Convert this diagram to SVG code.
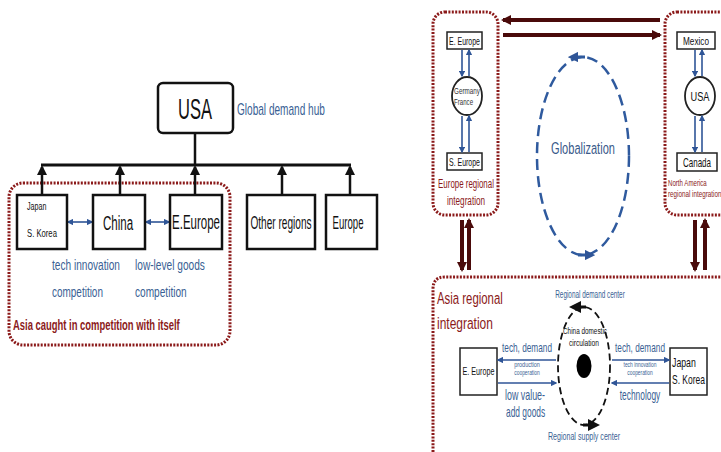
<svg xmlns="http://www.w3.org/2000/svg" width="721" height="452" viewBox="0 0 721 452">
<defs>
<style>
text{font-family:"Liberation Sans","Arial",sans-serif;}
.m{text-anchor:middle;}
.box{fill:#fff;stroke:#111;stroke-width:2.5;}
.sbox{fill:#fff;stroke:#222;stroke-width:1.5;}
.dot{fill:none;stroke:#8b1a1a;stroke-width:3;stroke-dasharray:2 1.4;}
.blue{fill:#3a5f94;}
.red{fill:#8b1a1a;}
.blk{fill:#111;}
.bl{stroke:#2f5597;stroke-width:1.6;fill:none;}
.br{stroke:#4a0a0a;stroke-width:4;fill:none;}
.k{stroke:#111;stroke-width:2.5;fill:none;}
</style>
<marker id="ak" viewBox="0 0 10 10" refX="8" refY="5" markerWidth="4" markerHeight="5" orient="auto-start-reverse" markerUnits="strokeWidth"><path d="M0,0L10,5L0,10z" fill="#111"/></marker>
<marker id="ab" viewBox="0 0 10 10" refX="8" refY="5" markerWidth="4" markerHeight="4" orient="auto-start-reverse" markerUnits="strokeWidth"><path d="M0,0L10,5L0,10z" fill="#2f5597"/></marker>
<marker id="ar" viewBox="0 0 10 10" refX="8" refY="5" markerWidth="2.5" markerHeight="2.5" orient="auto-start-reverse" markerUnits="strokeWidth"><path d="M0,0L10,5L0,10z" fill="#4a0a0a"/></marker>
<marker id="ag" viewBox="0 0 10 10" refX="5" refY="5" markerWidth="3.5" markerHeight="3.5" orient="auto" markerUnits="strokeWidth"><path d="M0,0L10,5L0,10z" fill="#2f5597"/></marker>
<marker id="ac" viewBox="0 0 10 10" refX="5" refY="5" markerWidth="4" markerHeight="4" orient="auto" markerUnits="strokeWidth"><path d="M0,0L10,5L0,10z" fill="#111"/></marker>
</defs>
<rect width="721" height="452" fill="#fff"/>

<!-- LEFT PANEL -->
<g id="asia-group-left">
<rect class="dot" x="9" y="183" width="221" height="162" rx="14"/>
<text transform="translate(13 330) scale(0.63 1)" font-size="15" font-weight="bold" class="red">Asia caught in competition with itself</text>
</g>
<g id="connectors-left">
<line class="k" x1="195" y1="133" x2="195" y2="165"/>
<line x1="41" y1="165" x2="351" y2="165" stroke="#111" stroke-width="3"/>
<line class="k" stroke-width="1.5" x1="42" y1="195" x2="42" y2="167" marker-end="url(#ak)"/>
<line class="k" stroke-width="1.5" x1="120" y1="195" x2="120" y2="167" marker-end="url(#ak)"/>
<line class="k" stroke-width="1.5" x1="195" y1="195" x2="195" y2="167" marker-end="url(#ak)"/>
<line class="k" stroke-width="1.5" x1="282" y1="195" x2="282" y2="167" marker-end="url(#ak)"/>
<line class="k" stroke-width="1.5" x1="350" y1="195" x2="350" y2="167" marker-end="url(#ak)"/>
<line class="bl" x1="68" y1="222" x2="92" y2="222" marker-start="url(#ab)" marker-end="url(#ab)"/>
<line class="bl" x1="146" y1="222" x2="169" y2="222" marker-start="url(#ab)" marker-end="url(#ab)"/>
</g>
<g id="usa">
<rect class="box" x="158" y="83" width="75" height="50" rx="5"/>
<text transform="translate(195 119) scale(0.57 1)" font-size="29" class="m blk">USA</text>
<text transform="translate(237 115) scale(0.63 1)" font-size="16" class="blue">Global demand hub</text>
</g>
<g id="japan-left">
<rect class="box" x="17" y="195" width="50" height="54"/>
<text transform="translate(27 210) scale(0.65 1)" font-size="11" class="blk">Japan</text>
<text transform="translate(27 237) scale(0.7 1)" font-size="11" class="blk">S. Korea</text>
</g>
<g id="china-left">
<rect class="box" x="93" y="195" width="52" height="54"/>
<text transform="translate(118 230) scale(0.55 1)" font-size="21" class="m blk">China</text>
</g>
<g id="eeurope-left">
<rect class="box" x="170" y="195" width="52" height="54"/>
<text transform="translate(196 229) scale(0.575 1)" font-size="20" class="m blk">E.Europe</text>
</g>
<g id="other-regions">
<rect class="box" x="247" y="195" width="68" height="54"/>
<text transform="translate(281 229) scale(0.56 1)" font-size="18" class="m blk">Other regions</text>
</g>
<g id="europe-left">
<rect class="box" x="326" y="195" width="51" height="54"/>
<text transform="translate(348 229) scale(0.535 1)" font-size="18" class="m blk">Europe</text>
</g>
<g id="labels-left">
<text transform="translate(52 270) scale(0.674 1)" font-size="15" class="blue">tech innovation</text>
<text transform="translate(52 297) scale(0.665 1)" font-size="15" class="blue">competition</text>
<text transform="translate(135 270) scale(0.677 1)" font-size="15" class="blue">low-level goods</text>
<text transform="translate(135 297) scale(0.675 1)" font-size="15" class="blue">competition</text>
</g>

<!-- RIGHT PANEL -->
<g id="europe-region">
<rect class="dot" x="433" y="12" width="65" height="203" rx="12"/>
<rect class="sbox" x="447" y="32" width="35" height="17"/>
<text transform="translate(464.5 45) scale(0.634 1)" font-size="11" class="m blk">E. Europe</text>
<ellipse cx="467" cy="96" rx="15" ry="19" fill="#fff" stroke="#222" stroke-width="1.8"/>
<text transform="translate(454 94) scale(0.7 1)" font-size="9" fill="#333">Germany</text>
<text transform="translate(454 105) scale(0.68 1)" font-size="9" fill="#333">France</text>
<rect class="sbox" x="447" y="153" width="35" height="17"/>
<text transform="translate(464.5 166) scale(0.634 1)" font-size="11" class="m blk">S. Europe</text>
<text transform="translate(466 188) scale(0.66 1)" font-size="12" class="m red">Europe regional</text>
<text transform="translate(466 205) scale(0.68 1)" font-size="12" class="m red">integration</text>
</g>
<g id="north-america-region">
<rect class="dot" x="665" y="12" width="70" height="203" rx="12"/>
<rect class="sbox" x="677" y="32" width="38" height="17"/>
<text transform="translate(696 45) scale(0.746 1)" font-size="11" class="m blk">Mexico</text>
<ellipse cx="700" cy="96" rx="15" ry="19" fill="#fff" stroke="#222" stroke-width="1.8"/>
<text transform="translate(700 101) scale(0.71 1)" font-size="13" class="m blk">USA</text>
<rect class="sbox" x="677" y="153" width="40" height="18"/>
<text transform="translate(697 167) scale(0.666 1)" font-size="12" class="m blk">Canada</text>
<text transform="translate(668 186) scale(0.68 1)" font-size="9" class="red">North America</text>
<text transform="translate(668 197) scale(0.7 1)" font-size="9" class="red">regional integration</text>
</g>
<g id="globalization">
<text transform="translate(583 154) scale(0.65 1)" font-size="17" class="m" fill="#3a5a8a">Globalization</text>
</g>
<g id="asia-region">
<path class="dot" d="M433,452 V289 Q433,277 445,277 H725"/>
<text transform="translate(437 304) scale(0.67 1)" font-size="17" class="red">Asia regional</text>
<text transform="translate(437 329) scale(0.705 1)" font-size="17" class="red">integration</text>
<text transform="translate(590 298) scale(0.64 1)" font-size="10" class="m blue">Regional demand center</text>
<text transform="translate(584 440) scale(0.71 1)" font-size="10" class="m blue">Regional supply center</text>
</g>
<g id="china-domestic">
<ellipse cx="584" cy="366" rx="7.5" ry="12" fill="#000"/>
<text transform="translate(585 334) scale(0.71 1)" font-size="9" class="m blk">China domestic</text>
<text transform="translate(584 346) scale(0.74 1)" font-size="9" class="m blk">circulation</text>
</g>
<g id="eeurope-asia">
<rect class="sbox" x="460" y="348" width="37" height="47"/>
<text transform="translate(478.5 375) scale(0.654 1)" font-size="11" class="m blk">E. Europe</text>
</g>
<g id="japan-asia">
<rect class="sbox" x="670" y="348" width="37" height="47"/>
<text transform="translate(672 367) scale(0.73 1)" font-size="12" class="blk">Japan</text>
<text transform="translate(672 384) scale(0.707 1)" font-size="12" class="blk">S. Korea</text>
</g>
<g id="asia-labels">
<text transform="translate(527 352) scale(0.635 1)" font-size="13" class="m blue">tech, demand</text>
<text transform="translate(527 367) scale(0.85 1)" font-size="6.5" class="m blue">production</text>
<text transform="translate(527 375) scale(0.75 1)" font-size="6.5" class="m blue">cooperation</text>
<text transform="translate(505 400) scale(0.635 1)" font-size="14" class="blue">low value-</text>
<text transform="translate(506 417) scale(0.6 1)" font-size="14" class="blue">add goods</text>
<text transform="translate(640 352) scale(0.635 1)" font-size="13" class="m blue">tech, demand</text>
<text transform="translate(640 367) scale(0.755 1)" font-size="6.5" class="m blue">tech innovation</text>
<text transform="translate(640 375) scale(0.75 1)" font-size="6.5" class="m blue">cooperation</text>
<text transform="translate(640 400) scale(0.6 1)" font-size="14" class="m blue">technology</text>
</g>
<g id="connectors-right">
<line class="br" x1="660" y1="20" x2="503" y2="20" marker-end="url(#ar)"/>
<line class="br" x1="503" y1="35" x2="660" y2="35" marker-end="url(#ar)"/>
<line class="br" stroke-width="3" x1="462" y1="220" x2="462" y2="270" marker-end="url(#ar)"/>
<line class="br" stroke-width="3" x1="469" y1="270" x2="469" y2="220" marker-end="url(#ar)"/>
<line class="br" stroke-width="3" x1="695" y1="220" x2="695" y2="270" marker-end="url(#ar)"/>
<line class="br" stroke-width="3" x1="705" y1="270" x2="705" y2="220" marker-end="url(#ar)"/>
<line class="bl" stroke-width="1.2" x1="462" y1="50" x2="462" y2="76" marker-end="url(#ab)"/>
<line class="bl" stroke-width="1.2" x1="469" y1="76" x2="469" y2="50" marker-end="url(#ab)"/>
<line class="bl" stroke-width="1.2" x1="462" y1="116" x2="462" y2="152" marker-end="url(#ab)"/>
<line class="bl" stroke-width="1.2" x1="469" y1="152" x2="469" y2="116" marker-end="url(#ab)"/>
<line class="bl" stroke-width="1.2" x1="695" y1="50" x2="695" y2="76" marker-end="url(#ab)"/>
<line class="bl" stroke-width="1.2" x1="702" y1="76" x2="702" y2="50" marker-end="url(#ab)"/>
<line class="bl" stroke-width="1.2" x1="695" y1="116" x2="695" y2="152" marker-end="url(#ab)"/>
<line class="bl" stroke-width="1.2" x1="702" y1="152" x2="702" y2="116" marker-end="url(#ab)"/>
<ellipse cx="583" cy="156" rx="46" ry="99" fill="none" stroke="#2f5a9e" stroke-width="2.5" stroke-dasharray="11 6"/>
<path d="M585,57 L573,57" stroke="#2f5a9e" stroke-width="3" marker-end="url(#ag)"/>
<path d="M578,255 L590,255" stroke="#2f5a9e" stroke-width="3" marker-end="url(#ag)"/>
<ellipse cx="584" cy="366" rx="26" ry="59" fill="none" stroke="#111" stroke-width="1.8" stroke-dasharray="7 4"/>
<path d="M586,307 L575,307" stroke="#111" stroke-width="3" marker-end="url(#ac)"/>
<path d="M583,425 L594,425" stroke="#111" stroke-width="3" marker-end="url(#ac)"/>
<line class="bl" x1="556" y1="360" x2="498" y2="360" marker-end="url(#ab)"/>
<line class="bl" x1="498" y1="383" x2="556" y2="383" marker-end="url(#ab)"/>
<line class="bl" x1="612" y1="360" x2="669" y2="360" marker-end="url(#ab)"/>
<line class="bl" x1="669" y1="383" x2="612" y2="383" marker-end="url(#ab)"/>
</g>
</svg>
